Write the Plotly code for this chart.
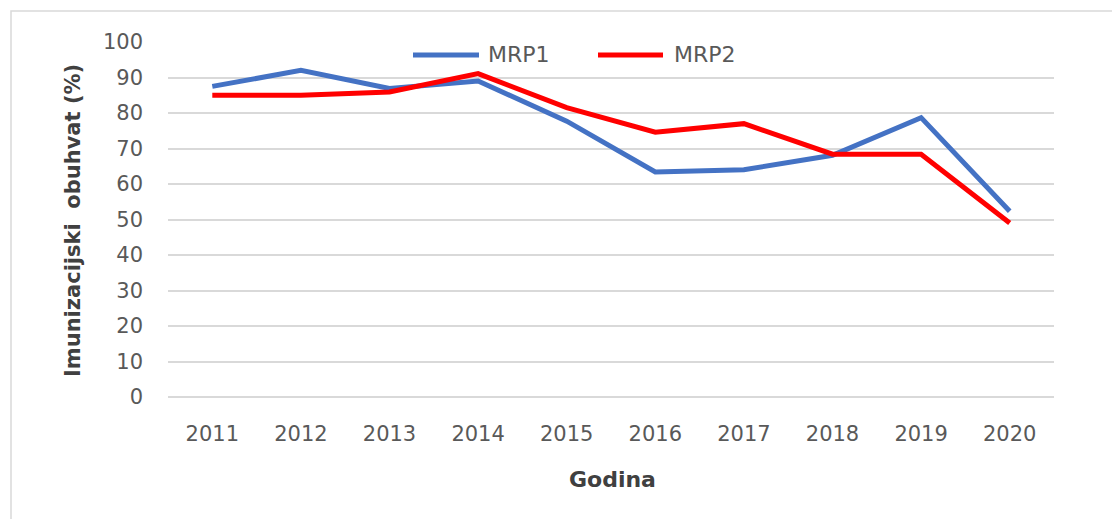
import plotly.graph_objects as go

# Immunisation coverage (%) by year
years = ["2011", "2012", "2013", "2014", "2015", "2016", "2017", "2018", "2019", "2020"]
mrp1 = [87.5, 92.0, 86.9, 89.0, 77.7, 63.4, 64.0, 68.1, 78.7, 52.3]
mrp2 = [85.0, 85.0, 85.9, 91.1, 81.5, 74.6, 77.0, 68.4, 68.4, 49.0]
series_names = ["MRP1", "MRP2"]
series_colors = ["#4472C4", "#FF0000"]
y_ticks = [0, 10, 20, 30, 40, 50, 60, 70, 80, 90, 100]

W, H = 1112, 519
ML, MR, MT, MB = 168, 58, 42, 122
PW = W - ML - MR
PH = H - MT - MB


def px(x):
    return (x - ML) / PW


def py(y):
    return (H - MB - y) / PH


FONT = "DejaVu Sans"
TICK_COLOR = "#595959"
TITLE_COLOR = "#404040"
GRID = "#D9D9D9"

fig = go.Figure()
for name, vals, col in zip(series_names, [mrp1, mrp2], series_colors):
    fig.add_trace(go.Scatter(
        x=years, y=vals, name=name, mode="lines",
        line=dict(color=col, width=5, shape="linear"),
        showlegend=False,
    ))

shapes = []
annotations = []

# outer chart frame
shapes.append(dict(
    type="rect", xref="paper", yref="paper",
    x0=px(11), x1=px(1130), y0=py(530), y1=py(11),
    line=dict(color=GRID, width=1.5), fillcolor="rgba(0,0,0,0)", layer="below",
))

# legend drawn across the top of the plot
legend_items = [(413, 479, 486), (598, 663, 672)]
for (lx0, lx1, tx), name, col in zip(legend_items, series_names, series_colors):
    shapes.append(dict(
        type="line", xref="paper", yref="paper",
        x0=px(lx0), x1=px(lx1), y0=py(55), y1=py(55),
        line=dict(color=col, width=5),
    ))
    annotations.append(dict(
        text=name, xref="paper", yref="paper", x=px(tx), y=py(55),
        xanchor="left", yanchor="middle", showarrow=False,
        font=dict(family=FONT, size=22, color=TICK_COLOR),
    ))

# axis titles
annotations.append(dict(
    text="Godina", xref="paper", yref="paper", x=px(612), y=py(480),
    xanchor="center", yanchor="middle", showarrow=False,
    font=dict(family=FONT, size=22, color=TITLE_COLOR, weight="bold"),
))
annotations.append(dict(
    text="Imunizacijski\u00a0\u00a0obuhvat\u00a0(%)", xref="paper", yref="paper",
    x=px(73), y=py(221), textangle=-90,
    xanchor="center", yanchor="middle", showarrow=False,
    font=dict(family=FONT, size=21, color=TITLE_COLOR, weight="bold"),
))

fig.update_layout(
    width=W, height=H,
    margin=dict(l=ML, r=MR, t=MT, b=MB, pad=0),
    paper_bgcolor="white", plot_bgcolor="white",
    font=dict(family=FONT, size=21, color=TICK_COLOR),
    shapes=shapes, annotations=annotations,
)
fig.update_xaxes(
    type="category", range=[-0.5, len(years) - 0.5],
    showgrid=False, showline=False, zeroline=False,
    ticks="", ticklabelstandoff=22,
    tickfont=dict(family=FONT, size=21, color=TICK_COLOR),
)
fig.update_yaxes(
    range=[0, 100], tickvals=y_ticks,
    showgrid=True, gridcolor=GRID, gridwidth=1.5,
    zeroline=True, zerolinecolor=GRID, zerolinewidth=1.5,
    showline=False, ticks="", ticklabelstandoff=24,
    tickfont=dict(family=FONT, size=21, color=TICK_COLOR),
)

fig.write_html("out.html")
